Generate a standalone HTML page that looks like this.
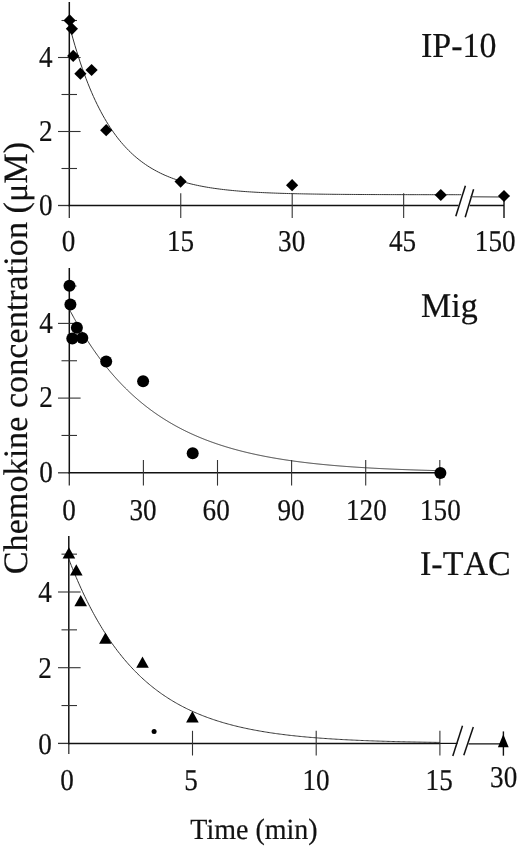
<!DOCTYPE html>
<html><head><meta charset="utf-8"><style>
html,body{margin:0;padding:0;background:#fff;}
svg{display:block;will-change:transform;}
text{font-family:"Liberation Serif",serif;fill:#111;stroke:#111;stroke-width:0.2px;text-rendering:geometricPrecision;}
</style></head><body>
<svg width="520" height="846" viewBox="0 0 520 846">
<rect width="520" height="846" fill="#fff"/>
<line x1="69.30" y1="2.00" x2="69.30" y2="206.30" stroke="#111" stroke-width="1.5"/>
<line x1="69.30" y1="205.50" x2="69.30" y2="218.00" stroke="#333" stroke-width="1.3"/>
<line x1="58.00" y1="205.50" x2="69.30" y2="205.50" stroke="#333" stroke-width="1.3"/>
<line x1="68.50" y1="205.50" x2="458.50" y2="205.50" stroke="#111" stroke-width="1.5"/>
<line x1="469.80" y1="205.50" x2="504.00" y2="205.50" stroke="#111" stroke-width="1.5"/>
<line x1="58.00" y1="131.50" x2="80.60" y2="131.50" stroke="#333" stroke-width="1.1"/>
<line x1="58.00" y1="57.50" x2="80.60" y2="57.50" stroke="#333" stroke-width="1.1"/>
<line x1="61.50" y1="168.50" x2="77.00" y2="168.50" stroke="#333" stroke-width="1.1"/>
<line x1="61.50" y1="94.50" x2="77.00" y2="94.50" stroke="#333" stroke-width="1.1"/>
<line x1="61.50" y1="20.50" x2="77.00" y2="20.50" stroke="#333" stroke-width="1.1"/>
<line x1="180.75" y1="193.30" x2="180.75" y2="218.00" stroke="#333" stroke-width="1.1"/>
<line x1="292.20" y1="193.30" x2="292.20" y2="218.00" stroke="#333" stroke-width="1.1"/>
<line x1="403.65" y1="193.30" x2="403.65" y2="218.00" stroke="#333" stroke-width="1.1"/>
<line x1="504.00" y1="193.30" x2="504.00" y2="218.00" stroke="#111" stroke-width="1.4"/>
<line x1="455.80" y1="216.20" x2="465.40" y2="185.80" stroke="#111" stroke-width="1.5"/>
<line x1="465.20" y1="217.30" x2="473.60" y2="189.20" stroke="#111" stroke-width="1.5"/>
<polyline points="69.30,25.20 71.16,32.17 73.02,38.86 74.87,45.27 76.73,51.42 78.59,57.31 80.44,62.96 82.30,68.38 84.16,73.58 86.02,78.56 87.88,83.34 89.73,87.92 91.59,92.32 93.45,96.53 95.30,100.57 97.16,104.44 99.02,108.15 100.88,111.72 102.73,115.13 104.59,118.40 106.45,121.54 108.31,124.55 110.16,127.44 112.02,130.21 113.88,132.86 115.74,135.41 117.59,137.85 119.45,140.19 121.31,142.43 123.17,144.58 125.02,146.64 126.88,148.62 128.74,150.52 130.60,152.34 132.45,154.08 134.31,155.75 136.17,157.36 138.03,158.89 139.88,160.37 141.74,161.78 143.60,163.14 145.46,164.44 147.31,165.68 149.17,166.88 151.03,168.02 152.89,169.12 154.75,170.17 156.60,171.18 158.46,172.15 160.32,173.08 162.18,173.97 164.03,174.83 165.89,175.65 167.75,176.43 169.60,177.18 171.46,177.90 173.32,178.60 175.18,179.26 177.03,179.90 178.89,180.51 180.75,181.09 182.61,181.65 184.46,182.19 186.32,182.71 188.18,183.20 190.04,183.68 191.89,184.13 193.75,184.57 195.61,184.99 197.47,185.39 199.32,185.77 201.18,186.14 203.04,186.49 204.90,186.83 206.75,187.16 208.61,187.47 210.47,187.77 212.33,188.05 214.19,188.33 216.04,188.59 217.90,188.84 219.76,189.09 221.62,189.32 223.47,189.54 225.33,189.75 227.19,189.96 229.05,190.16 230.90,190.34 232.76,190.52 234.62,190.70 236.47,190.86 238.33,191.02 240.19,191.18 242.05,191.32 243.90,191.46 245.76,191.60 247.62,191.73 249.48,191.85 251.33,191.97 253.19,192.08 255.05,192.19 256.91,192.30 258.76,192.40 260.62,192.49 262.48,192.58 264.34,192.67 266.19,192.76 268.05,192.84 269.91,192.92 271.77,192.99 273.62,193.06 275.48,193.13 277.34,193.20 279.20,193.26 281.06,193.32 282.91,193.38 284.77,193.43 286.63,193.49 288.49,193.54 290.34,193.59 292.20,193.64 294.06,193.68 295.91,193.72 297.77,193.77 299.63,193.81 301.49,193.84 303.34,193.88 305.20,193.92 307.06,193.95 308.92,193.98 310.77,194.01 312.63,194.04 314.49,194.07 316.35,194.10 318.20,194.12 320.06,194.15 321.92,194.17 323.78,194.20 325.63,194.22 327.49,194.24 329.35,194.26 331.21,194.28 333.06,194.30 334.92,194.32 336.78,194.33 338.64,194.35 340.50,194.36 342.35,194.38 344.21,194.39 346.07,194.41 347.93,194.42 349.78,194.43 351.64,194.45 353.50,194.46 355.36,194.47 357.21,194.48 359.07,194.49 360.93,194.50 362.79,194.51 364.64,194.52 366.50,194.53 368.36,194.54 370.21,194.54 372.07,194.55 373.93,194.56 375.79,194.57 377.64,194.57 379.50,194.58 381.36,194.59 383.22,194.59 385.07,194.60 386.93,194.60 388.79,194.61 390.65,194.61 392.50,194.62 394.36,194.62 396.22,194.63 398.08,194.63 399.94,194.64 401.79,194.64 403.65,194.64 405.51,194.65 407.37,194.65 409.22,194.66 411.08,194.66 412.94,194.66 414.80,194.66 416.65,194.67 418.51,194.67 420.37,194.67 422.23,194.67 424.08,194.68 425.94,194.68 427.80,194.68 429.65,194.68 431.51,194.69 433.37,194.69 435.23,194.69 437.08,194.69 438.94,194.69 440.80,194.69 442.66,194.70 444.51,194.70 446.37,194.70 448.23,194.70 450.09,194.70 451.94,194.70 453.80,194.70 455.66,194.71 457.52,194.71 459.38,194.71 461.23,194.71" fill="none" stroke="#333" stroke-width="1.0"/>
<polyline points="470.50,196.80 504.00,197.00" fill="none" stroke="#333" stroke-width="1.0"/>
<polygon points="69.60,14.30 75.70,20.40 69.60,26.50 63.50,20.40" fill="#000"/>
<polygon points="71.90,22.70 78.00,28.80 71.90,34.90 65.80,28.80" fill="#000"/>
<polygon points="73.20,49.80 79.30,55.90 73.20,62.00 67.10,55.90" fill="#000"/>
<polygon points="80.40,67.60 86.50,73.70 80.40,79.80 74.30,73.70" fill="#000"/>
<polygon points="91.60,63.90 97.70,70.00 91.60,76.10 85.50,70.00" fill="#000"/>
<polygon points="106.20,124.10 112.30,130.20 106.20,136.30 100.10,130.20" fill="#000"/>
<polygon points="180.60,175.50 186.70,181.60 180.60,187.70 174.50,181.60" fill="#000"/>
<polygon points="292.10,179.10 298.20,185.20 292.10,191.30 286.00,185.20" fill="#000"/>
<polygon points="440.80,188.90 446.90,195.00 440.80,201.10 434.70,195.00" fill="#000"/>
<polygon points="504.00,189.90 510.10,196.00 504.00,202.10 497.90,196.00" fill="#000"/>
<text transform="translate(52.60,215.20) scale(0.97,1.08)" font-size="28" text-anchor="end" >0</text>
<text transform="translate(52.60,141.20) scale(0.97,1.08)" font-size="28" text-anchor="end" >2</text>
<text transform="translate(52.60,67.20) scale(0.97,1.08)" font-size="28" text-anchor="end" >4</text>
<text transform="translate(68.60,251.20) scale(0.97,1.08)" font-size="28" text-anchor="middle" >0</text>
<text transform="translate(180.50,251.20) scale(0.97,1.08)" font-size="28" text-anchor="middle" >15</text>
<text transform="translate(291.70,251.20) scale(0.97,1.08)" font-size="28" text-anchor="middle" >30</text>
<text transform="translate(402.60,251.20) scale(0.97,1.08)" font-size="28" text-anchor="middle" >45</text>
<text transform="translate(495.20,251.20) scale(0.97,1.08)" font-size="28" text-anchor="middle" >150</text>
<text transform="translate(421.00,57.20) scale(1.0,1.03)" font-size="34" text-anchor="start" >IP-10</text>
<line x1="69.30" y1="268.00" x2="69.30" y2="473.60" stroke="#111" stroke-width="1.5"/>
<line x1="69.30" y1="472.80" x2="69.30" y2="485.60" stroke="#333" stroke-width="1.3"/>
<line x1="58.00" y1="472.80" x2="69.30" y2="472.80" stroke="#333" stroke-width="1.3"/>
<line x1="68.50" y1="472.80" x2="439.80" y2="472.80" stroke="#111" stroke-width="1.5"/>
<line x1="58.00" y1="398.10" x2="80.60" y2="398.10" stroke="#333" stroke-width="1.1"/>
<line x1="58.00" y1="323.40" x2="80.60" y2="323.40" stroke="#333" stroke-width="1.1"/>
<line x1="61.50" y1="435.45" x2="77.00" y2="435.45" stroke="#333" stroke-width="1.1"/>
<line x1="61.50" y1="360.75" x2="77.00" y2="360.75" stroke="#333" stroke-width="1.1"/>
<line x1="69.00" y1="286.05" x2="76.50" y2="286.05" stroke="#333" stroke-width="1.1"/>
<line x1="143.40" y1="460.00" x2="143.40" y2="485.60" stroke="#333" stroke-width="1.1"/>
<line x1="217.50" y1="460.00" x2="217.50" y2="485.60" stroke="#333" stroke-width="1.1"/>
<line x1="291.60" y1="460.00" x2="291.60" y2="485.60" stroke="#333" stroke-width="1.1"/>
<line x1="365.70" y1="460.00" x2="365.70" y2="485.60" stroke="#333" stroke-width="1.1"/>
<line x1="439.80" y1="460.00" x2="439.80" y2="485.60" stroke="#333" stroke-width="1.1"/>
<polyline points="69.30,309.21 69.92,310.39 70.53,311.56 71.15,312.73 71.77,313.88 72.39,315.03 73.00,316.17 73.62,317.30 74.24,318.43 74.86,319.54 75.47,320.65 76.09,321.75 76.71,322.84 77.33,323.92 77.94,325.00 78.56,326.06 79.18,327.12 79.80,328.18 80.41,329.22 81.03,330.26 81.65,331.29 82.27,332.31 82.88,333.33 83.50,334.33 84.12,335.33 84.74,336.33 85.35,337.31 85.97,338.29 86.59,339.26 87.21,340.23 87.83,341.18 88.44,342.14 89.06,343.08 89.68,344.02 90.30,344.95 90.91,345.87 91.53,346.79 92.15,347.70 92.77,348.60 93.38,349.50 94.00,350.39 94.62,351.27 95.23,352.15 95.85,353.02 96.47,353.89 97.09,354.75 97.70,355.60 98.32,356.45 98.94,357.29 99.56,358.12 100.17,358.95 100.79,359.77 101.41,360.59 102.03,361.40 102.65,362.20 103.26,363.00 103.88,363.80 104.50,364.58 105.12,365.37 105.73,366.14 106.35,366.91 106.97,367.68 107.59,368.44 108.20,369.19 108.82,369.94 109.44,370.68 110.06,371.42 110.67,372.15 111.29,372.88 111.91,373.60 112.53,374.32 113.14,375.03 113.76,375.73 114.38,376.44 115.00,377.13 115.61,377.82 116.23,378.51 116.85,379.19 117.47,379.87 118.08,380.54 118.70,381.20 119.32,381.87 119.94,382.52 120.55,383.18 121.17,383.82 121.79,384.47 122.41,385.10 123.02,385.74 123.64,386.37 124.26,386.99 124.88,387.61 125.49,388.23 126.11,388.84 126.73,389.44 127.34,390.05 127.96,390.64 128.58,391.24 129.20,391.83 129.81,392.41 130.43,392.99 131.05,393.57 131.67,394.14 132.28,394.71 132.90,395.27 133.52,395.83 134.14,396.39 134.75,396.94 135.37,397.49 135.99,398.03 136.61,398.57 137.23,399.11 137.84,399.64 138.46,400.17 139.08,400.69 139.69,401.22 140.31,401.73 140.93,402.25 141.55,402.76 142.17,403.26 142.78,403.76 143.40,404.26 144.02,404.76 144.63,405.25 145.25,405.74 145.87,406.22 146.49,406.70 147.11,407.18 147.72,407.65 148.34,408.12 148.96,408.59 149.57,409.06 150.19,409.52 150.81,409.97 151.43,410.43 152.05,410.88 152.66,411.32 153.28,411.77 153.90,412.21 154.51,412.65 155.13,413.08 155.75,413.51 156.37,413.94 156.99,414.37 157.60,414.79 158.22,415.21 158.84,415.62 159.45,416.04 160.07,416.45 160.69,416.85 161.31,417.26 161.93,417.66 162.54,418.06 163.16,418.45 163.78,418.85 164.40,419.24 165.01,419.62 165.63,420.01 166.25,420.39 166.87,420.77 167.48,421.14 168.10,421.52 168.72,421.89 169.34,422.25 169.95,422.62 170.57,422.98 171.19,423.34 171.81,423.70 172.42,424.05 173.04,424.41 173.66,424.76 174.28,425.10 174.89,425.45 175.51,425.79 176.13,426.13 176.75,426.47 177.36,426.80 177.98,427.13 178.60,427.46 179.22,427.79 179.83,428.12 180.45,428.44 181.07,428.76 181.69,429.08 182.30,429.39 182.92,429.71 183.54,430.02 184.16,430.33 184.77,430.63 185.39,430.94 186.01,431.24 186.62,431.54 187.24,431.84 187.86,432.13 188.48,432.43 189.10,432.72 189.71,433.01 190.33,433.30 190.95,433.58 191.56,433.87 192.18,434.15 192.80,434.43 193.42,434.70 194.04,434.98 194.65,435.25 195.27,435.52 195.89,435.79 196.50,436.06 197.12,436.32 197.74,436.59 198.36,436.85 198.98,437.11 199.59,437.37 200.21,437.62 200.83,437.88 201.44,438.13 202.06,438.38 202.68,438.63 203.30,438.88 203.92,439.12 204.53,439.36 205.15,439.61 205.77,439.85 206.38,440.08 207.00,440.32 207.62,440.55 208.24,440.79 208.86,441.02 209.47,441.25 210.09,441.48 210.71,441.70 211.32,441.93 211.94,442.15 212.56,442.37 213.18,442.59 213.80,442.81 214.41,443.03 215.03,443.24 215.65,443.45 216.26,443.67 216.88,443.88 217.50,444.09 218.12,444.29 218.74,444.50 219.35,444.70 219.97,444.91 220.59,445.11 221.20,445.31 221.82,445.51 222.44,445.70 223.06,445.90 223.68,446.09 224.29,446.29 224.91,446.48 225.53,446.67 226.14,446.86 226.76,447.04 227.38,447.23 228.00,447.42 228.62,447.60 229.23,447.78 229.85,447.96 230.47,448.14 231.09,448.32 231.70,448.50 232.32,448.67 232.94,448.85 233.56,449.02 234.17,449.19 234.79,449.36 235.41,449.53 236.03,449.70 236.64,449.87 237.26,450.03 237.88,450.20 238.50,450.36 239.11,450.52 239.73,450.68 240.35,450.84 240.97,451.00 241.58,451.16 242.20,451.31 242.82,451.47 243.44,451.62 244.05,451.78 244.67,451.93 245.29,452.08 245.91,452.23 246.52,452.38 247.14,452.53 247.76,452.67 248.38,452.82 248.99,452.96 249.61,453.10 250.23,453.25 250.85,453.39 251.46,453.53 252.08,453.67 252.70,453.81 253.31,453.94 253.93,454.08 254.55,454.21 255.17,454.35 255.79,454.48 256.40,454.61 257.02,454.75 257.64,454.88 258.25,455.01 258.87,455.13 259.49,455.26 260.11,455.39 260.73,455.51 261.34,455.64 261.96,455.76 262.58,455.89 263.19,456.01 263.81,456.13 264.43,456.25 265.05,456.37 265.67,456.49 266.28,456.61 266.90,456.72 267.52,456.84 268.13,456.95 268.75,457.07 269.37,457.18 269.99,457.30 270.61,457.41 271.22,457.52 271.84,457.63 272.46,457.74 273.07,457.85 273.69,457.96 274.31,458.06 274.93,458.17 275.55,458.27 276.16,458.38 276.78,458.48 277.40,458.59 278.01,458.69 278.63,458.79 279.25,458.89 279.87,458.99 280.49,459.09 281.10,459.19 281.72,459.29 282.34,459.39 282.96,459.49 283.57,459.58 284.19,459.68 284.81,459.77 285.43,459.87 286.04,459.96 286.66,460.05 287.28,460.14 287.90,460.24 288.51,460.33 289.13,460.42 289.75,460.51 290.37,460.59 290.98,460.68 291.60,460.77 292.22,460.86 292.84,460.94 293.45,461.03 294.07,461.11 294.69,461.20 295.31,461.28 295.92,461.37 296.54,461.45 297.16,461.53 297.78,461.61 298.39,461.69 299.01,461.77 299.63,461.85 300.25,461.93 300.86,462.01 301.48,462.09 302.10,462.17 302.72,462.24 303.33,462.32 303.95,462.39 304.57,462.47 305.19,462.54 305.80,462.62 306.42,462.69 307.04,462.76 307.66,462.84 308.27,462.91 308.89,462.98 309.51,463.05 310.12,463.12 310.74,463.19 311.36,463.26 311.98,463.33 312.60,463.40 313.21,463.47 313.83,463.53 314.45,463.60 315.06,463.67 315.68,463.73 316.30,463.80 316.92,463.86 317.54,463.93 318.15,463.99 318.77,464.06 319.39,464.12 320.00,464.18 320.62,464.24 321.24,464.31 321.86,464.37 322.48,464.43 323.09,464.49 323.71,464.55 324.33,464.61 324.94,464.67 325.56,464.73 326.18,464.78 326.80,464.84 327.42,464.90 328.03,464.96 328.65,465.01 329.27,465.07 329.89,465.13 330.50,465.18 331.12,465.24 331.74,465.29 332.36,465.35 332.97,465.40 333.59,465.45 334.21,465.51 334.83,465.56 335.44,465.61 336.06,465.66 336.68,465.71 337.30,465.77 337.91,465.82 338.53,465.87 339.15,465.92 339.77,465.97 340.38,466.02 341.00,466.06 341.62,466.11 342.24,466.16 342.85,466.21 343.47,466.26 344.09,466.30 344.71,466.35 345.32,466.40 345.94,466.44 346.56,466.49 347.18,466.54 347.79,466.58 348.41,466.63 349.03,466.67 349.65,466.71 350.26,466.76 350.88,466.80 351.50,466.85 352.12,466.89 352.73,466.93 353.35,466.97 353.97,467.02 354.59,467.06 355.20,467.10 355.82,467.14 356.44,467.18 357.06,467.22 357.67,467.26 358.29,467.30 358.91,467.34 359.53,467.38 360.14,467.42 360.76,467.46 361.38,467.50 362.00,467.54 362.61,467.57 363.23,467.61 363.85,467.65 364.47,467.69 365.08,467.72 365.70,467.76 366.32,467.80 366.94,467.83 367.55,467.87 368.17,467.90 368.79,467.94 369.41,467.97 370.02,468.01 370.64,468.04 371.26,468.08 371.88,468.11 372.49,468.15 373.11,468.18 373.73,468.21 374.35,468.25 374.96,468.28 375.58,468.31 376.20,468.34 376.82,468.38 377.43,468.41 378.05,468.44 378.67,468.47 379.29,468.50 379.90,468.53 380.52,468.57 381.14,468.60 381.76,468.63 382.37,468.66 382.99,468.69 383.61,468.72 384.23,468.75 384.84,468.77 385.46,468.80 386.08,468.83 386.70,468.86 387.31,468.89 387.93,468.92 388.55,468.95 389.17,468.97 389.78,469.00 390.40,469.03 391.02,469.06 391.64,469.08 392.25,469.11 392.87,469.14 393.49,469.16 394.11,469.19 394.72,469.22 395.34,469.24 395.96,469.27 396.58,469.29 397.19,469.32 397.81,469.34 398.43,469.37 399.05,469.39 399.66,469.42 400.28,469.44 400.90,469.47 401.52,469.49 402.13,469.51 402.75,469.54 403.37,469.56 403.99,469.58 404.60,469.61 405.22,469.63 405.84,469.65 406.46,469.68 407.07,469.70 407.69,469.72 408.31,469.74 408.93,469.77 409.54,469.79 410.16,469.81 410.78,469.83 411.40,469.85 412.01,469.87 412.63,469.90 413.25,469.92 413.87,469.94 414.48,469.96 415.10,469.98 415.72,470.00 416.34,470.02 416.95,470.04 417.57,470.06 418.19,470.08 418.81,470.10 419.42,470.12 420.04,470.14 420.66,470.16 421.28,470.18 421.89,470.19 422.51,470.21 423.13,470.23 423.75,470.25 424.36,470.27 424.98,470.29 425.60,470.31 426.22,470.32 426.83,470.34 427.45,470.36 428.07,470.38 428.69,470.39 429.30,470.41 429.92,470.43 430.54,470.45 431.16,470.46 431.77,470.48 432.39,470.50 433.01,470.51 433.63,470.53 434.24,470.55 434.86,470.56 435.48,470.58 436.10,470.59 436.71,470.61 437.33,470.63 437.95,470.64 438.57,470.66 439.18,470.67 439.80,470.69" fill="none" stroke="#333" stroke-width="1.0"/>
<circle cx="69.50" cy="285.70" r="6" fill="#000"/>
<circle cx="70.40" cy="304.60" r="6" fill="#000"/>
<circle cx="76.90" cy="327.70" r="6" fill="#000"/>
<circle cx="72.30" cy="338.50" r="6" fill="#000"/>
<circle cx="82.30" cy="338.00" r="6" fill="#000"/>
<circle cx="106.20" cy="361.50" r="6" fill="#000"/>
<circle cx="143.10" cy="381.20" r="6" fill="#000"/>
<circle cx="192.70" cy="453.30" r="6" fill="#000"/>
<circle cx="440.40" cy="473.00" r="6" fill="#000"/>
<text transform="translate(52.80,482.00) scale(0.97,1.08)" font-size="28" text-anchor="end" >0</text>
<text transform="translate(52.80,407.30) scale(0.97,1.08)" font-size="28" text-anchor="end" >2</text>
<text transform="translate(52.80,332.60) scale(0.97,1.08)" font-size="28" text-anchor="end" >4</text>
<text transform="translate(69.00,519.70) scale(0.97,1.08)" font-size="28" text-anchor="middle" >0</text>
<text transform="translate(143.00,519.70) scale(0.97,1.08)" font-size="28" text-anchor="middle" >30</text>
<text transform="translate(216.20,519.70) scale(0.97,1.08)" font-size="28" text-anchor="middle" >60</text>
<text transform="translate(291.10,519.70) scale(0.97,1.08)" font-size="28" text-anchor="middle" >90</text>
<text transform="translate(366.40,519.70) scale(0.97,1.08)" font-size="28" text-anchor="middle" >120</text>
<text transform="translate(440.40,519.70) scale(0.97,1.08)" font-size="28" text-anchor="middle" >150</text>
<text transform="translate(421.00,317.40) scale(1.0,1.02)" font-size="34" text-anchor="start" >Mig</text>
<line x1="68.80" y1="536.00" x2="68.80" y2="744.20" stroke="#111" stroke-width="1.5"/>
<line x1="68.80" y1="743.40" x2="68.80" y2="754.00" stroke="#333" stroke-width="1.3"/>
<line x1="58.00" y1="743.40" x2="68.80" y2="743.40" stroke="#333" stroke-width="1.3"/>
<line x1="68.00" y1="743.40" x2="440.00" y2="743.40" stroke="#111" stroke-width="1.5"/>
<line x1="439.50" y1="743.40" x2="457.50" y2="743.40" stroke="#111" stroke-width="1.2"/>
<line x1="468.50" y1="743.80" x2="503.40" y2="743.80" stroke="#111" stroke-width="1.2"/>
<line x1="58.00" y1="667.70" x2="80.60" y2="667.70" stroke="#333" stroke-width="1.1"/>
<line x1="58.00" y1="592.00" x2="80.60" y2="592.00" stroke="#333" stroke-width="1.1"/>
<line x1="61.50" y1="705.55" x2="77.00" y2="705.55" stroke="#333" stroke-width="1.1"/>
<line x1="61.50" y1="629.85" x2="77.00" y2="629.85" stroke="#333" stroke-width="1.1"/>
<line x1="61.50" y1="554.15" x2="77.00" y2="554.15" stroke="#333" stroke-width="1.1"/>
<line x1="192.50" y1="730.80" x2="192.50" y2="755.50" stroke="#333" stroke-width="1.1"/>
<line x1="316.20" y1="730.80" x2="316.20" y2="755.50" stroke="#333" stroke-width="1.1"/>
<line x1="439.90" y1="730.80" x2="439.90" y2="755.50" stroke="#333" stroke-width="1.1"/>
<line x1="503.40" y1="731.40" x2="503.40" y2="755.70" stroke="#111" stroke-width="1.4"/>
<line x1="452.80" y1="756.10" x2="462.50" y2="725.70" stroke="#111" stroke-width="1.5"/>
<line x1="463.80" y1="755.30" x2="473.30" y2="727.00" stroke="#111" stroke-width="1.5"/>
<polyline points="68.80,559.07 70.04,562.27 71.27,565.41 72.51,568.50 73.75,571.53 74.98,574.51 76.22,577.44 77.46,580.32 78.70,583.15 79.93,585.93 81.17,588.66 82.41,591.35 83.64,593.99 84.88,596.58 86.12,599.12 87.35,601.63 88.59,604.09 89.83,606.50 91.07,608.88 92.30,611.21 93.54,613.51 94.78,615.76 96.01,617.97 97.25,620.15 98.49,622.29 99.72,624.39 100.96,626.45 102.20,628.48 103.44,630.47 104.67,632.43 105.91,634.36 107.15,636.25 108.38,638.11 109.62,639.94 110.86,641.73 112.09,643.49 113.33,645.23 114.57,646.93 115.81,648.60 117.04,650.25 118.28,651.86 119.52,653.45 120.75,655.01 121.99,656.55 123.23,658.05 124.47,659.53 125.70,660.99 126.94,662.42 128.18,663.82 129.41,665.20 130.65,666.56 131.89,667.89 133.12,669.20 134.36,670.49 135.60,671.75 136.83,673.00 138.07,674.22 139.31,675.42 140.55,676.60 141.78,677.76 143.02,678.90 144.26,680.02 145.49,681.11 146.73,682.20 147.97,683.26 149.20,684.30 150.44,685.33 151.68,686.33 152.92,687.32 154.15,688.30 155.39,689.25 156.63,690.19 157.86,691.11 159.10,692.02 160.34,692.91 161.57,693.79 162.81,694.65 164.05,695.49 165.29,696.33 166.52,697.14 167.76,697.94 169.00,698.73 170.23,699.51 171.47,700.27 172.71,701.02 173.94,701.75 175.18,702.48 176.42,703.19 177.66,703.88 178.89,704.57 180.13,705.24 181.37,705.90 182.60,706.55 183.84,707.19 185.08,707.82 186.31,708.44 187.55,709.05 188.79,709.64 190.03,710.23 191.26,710.80 192.50,711.37 193.74,711.92 194.97,712.47 196.21,713.01 197.45,713.53 198.69,714.05 199.92,714.56 201.16,715.06 202.40,715.55 203.63,716.04 204.87,716.51 206.11,716.98 207.34,717.44 208.58,717.89 209.82,718.33 211.06,718.76 212.29,719.19 213.53,719.61 214.77,720.02 216.00,720.43 217.24,720.83 218.48,721.22 219.71,721.60 220.95,721.98 222.19,722.35 223.43,722.72 224.66,723.08 225.90,723.43 227.14,723.78 228.37,724.12 229.61,724.45 230.85,724.78 232.08,725.10 233.32,725.42 234.56,725.73 235.79,726.04 237.03,726.34 238.27,726.64 239.51,726.93 240.74,727.21 241.98,727.49 243.22,727.77 244.45,728.04 245.69,728.31 246.93,728.57 248.16,728.83 249.40,729.08 250.64,729.33 251.88,729.57 253.11,729.81 254.35,730.05 255.59,730.28 256.82,730.51 258.06,730.73 259.30,730.95 260.53,731.17 261.77,731.38 263.01,731.59 264.25,731.79 265.48,731.99 266.72,732.19 267.96,732.39 269.19,732.58 270.43,732.76 271.67,732.95 272.90,733.13 274.14,733.31 275.38,733.48 276.62,733.66 277.85,733.82 279.09,733.99 280.33,734.15 281.56,734.31 282.80,734.47 284.04,734.63 285.27,734.78 286.51,734.93 287.75,735.08 288.99,735.22 290.22,735.36 291.46,735.50 292.70,735.64 293.93,735.77 295.17,735.91 296.41,736.04 297.64,736.16 298.88,736.29 300.12,736.41 301.36,736.53 302.59,736.65 303.83,736.77 305.07,736.88 306.30,737.00 307.54,737.11 308.78,737.22 310.01,737.32 311.25,737.43 312.49,737.53 313.73,737.64 314.96,737.74 316.20,737.83 317.44,737.93 318.67,738.03 319.91,738.12 321.15,738.21 322.38,738.30 323.62,738.39 324.86,738.48 326.10,738.56 327.33,738.64 328.57,738.73 329.81,738.81 331.04,738.89 332.28,738.97 333.52,739.04 334.75,739.12 335.99,739.19 337.23,739.27 338.47,739.34 339.70,739.41 340.94,739.48 342.18,739.55 343.41,739.61 344.65,739.68 345.89,739.74 347.12,739.81 348.36,739.87 349.60,739.93 350.84,739.99 352.07,740.05 353.31,740.11 354.55,740.16 355.78,740.22 357.02,740.28 358.26,740.33 359.50,740.38 360.73,740.44 361.97,740.49 363.21,740.54 364.44,740.59 365.68,740.64 366.92,740.68 368.15,740.73 369.39,740.78 370.63,740.82 371.87,740.87 373.10,740.91 374.34,740.95 375.58,741.00 376.81,741.04 378.05,741.08 379.29,741.12 380.52,741.16 381.76,741.20 383.00,741.24 384.24,741.27 385.47,741.31 386.71,741.35 387.95,741.38 389.18,741.42 390.42,741.45 391.66,741.49 392.89,741.52 394.13,741.55 395.37,741.58 396.61,741.62 397.84,741.65 399.08,741.68 400.32,741.71 401.55,741.74 402.79,741.76 404.03,741.79 405.26,741.82 406.50,741.85 407.74,741.88 408.97,741.90 410.21,741.93 411.45,741.95 412.69,741.98 413.92,742.00 415.16,742.03 416.40,742.05 417.63,742.07 418.87,742.10 420.11,742.12 421.34,742.14 422.58,742.16 423.82,742.19 425.06,742.21 426.29,742.23 427.53,742.25 428.77,742.27 430.00,742.29 431.24,742.31 432.48,742.33 433.71,742.34 434.95,742.36 436.19,742.38 437.43,742.40 438.66,742.42 439.90,742.43" fill="none" stroke="#333" stroke-width="1.0"/>
<polygon points="68.90,547.20 75.20,558.60 62.60,558.60" fill="#000"/>
<polygon points="76.30,564.20 82.60,575.60 70.00,575.60" fill="#000"/>
<polygon points="80.70,594.90 87.00,606.30 74.40,606.30" fill="#000"/>
<polygon points="105.40,632.40 111.70,643.80 99.10,643.80" fill="#000"/>
<polygon points="142.50,656.40 148.80,667.80 136.20,667.80" fill="#000"/>
<polygon points="192.40,711.10 198.70,722.50 186.10,722.50" fill="#000"/>
<polygon points="503.30,734.30 508.70,747.30 497.90,747.30" fill="#000"/>
<circle cx="154.10" cy="731.40" r="2.5" fill="#000"/>
<text transform="translate(51.90,753.60) scale(0.97,1.08)" font-size="28" text-anchor="end" >0</text>
<text transform="translate(51.90,677.90) scale(0.97,1.08)" font-size="28" text-anchor="end" >2</text>
<text transform="translate(51.90,602.20) scale(0.97,1.08)" font-size="28" text-anchor="end" >4</text>
<text transform="translate(67.00,789.80) scale(0.97,1.08)" font-size="28" text-anchor="middle" >0</text>
<text transform="translate(191.00,789.80) scale(0.97,1.08)" font-size="28" text-anchor="middle" >5</text>
<text transform="translate(316.00,789.80) scale(0.97,1.08)" font-size="28" text-anchor="middle" >10</text>
<text transform="translate(439.20,789.80) scale(0.97,1.08)" font-size="28" text-anchor="middle" >15</text>
<text transform="translate(503.70,786.60) scale(0.97,1.08)" font-size="28" text-anchor="middle" >30</text>
<text transform="translate(420.00,574.50) scale(1.0,1.02)" font-size="34" text-anchor="start" style="font-kerning:none">I-TAC</text>
<text transform="translate(254.00,839.20) scale(1.0,1.05)" font-size="28" text-anchor="middle" >Time (min)</text>
<text transform="translate(26.8,358.1) rotate(-90)" x="0" y="0" font-size="34.2" text-anchor="middle">Chemokine concentration (&#956;M)</text>
</svg>
</body></html>
